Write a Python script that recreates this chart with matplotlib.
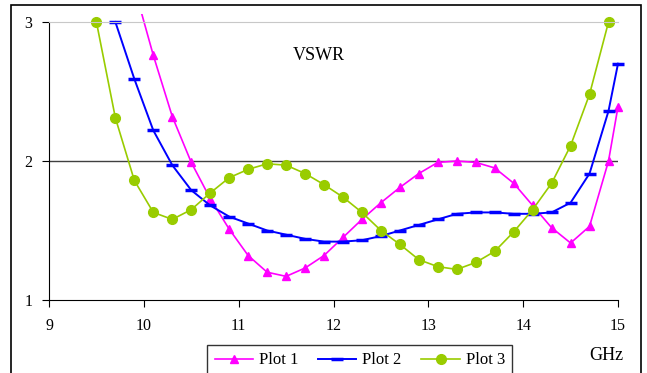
import matplotlib
matplotlib.use('Agg')
import matplotlib.pyplot as plt
from matplotlib.patches import Rectangle
from matplotlib.transforms import Bbox, TransformedBbox

plt.rcParams['font.family'] = ['Liberation Serif', 'DejaVu Serif']

# Plot 1 (magenta triangles)
x1 = [9.9, 10.1, 10.3, 10.5, 10.7, 10.9, 11.1, 11.3, 11.5, 11.7, 11.9, 12.1, 12.3, 12.5,
      12.7, 12.9, 13.1, 13.3, 13.5, 13.7, 13.9, 14.1, 14.3, 14.5, 14.7, 14.9, 15.0]
y1 = [3.25, 2.76, 2.32, 1.99, 1.73, 1.51, 1.32, 1.20, 1.17, 1.23, 1.32, 1.45, 1.58, 1.70,
      1.81, 1.91, 1.99, 2.00, 1.99, 1.95, 1.84, 1.68, 1.52, 1.41, 1.53, 2.00, 2.39]

# Plot 2 (blue dashes)
x2 = [9.7, 9.9, 10.1, 10.3, 10.5, 10.7, 10.9, 11.1, 11.3, 11.5, 11.7, 11.9, 12.1, 12.3,
      12.5, 12.7, 12.9, 13.1, 13.3, 13.5, 13.7, 13.9, 14.1, 14.3, 14.5, 14.7, 14.9, 15.0]
y2 = [3.00, 2.59, 2.22, 1.97, 1.79, 1.68, 1.60, 1.55, 1.50, 1.47, 1.44, 1.42, 1.42, 1.43,
      1.46, 1.50, 1.54, 1.58, 1.62, 1.63, 1.63, 1.62, 1.62, 1.63, 1.70, 1.91, 2.36, 2.70]

# Plot 3 (green circles)
x3 = [9.5, 9.7, 9.9, 10.1, 10.3, 10.5, 10.7, 10.9, 11.1, 11.3, 11.5, 11.7, 11.9, 12.1,
      12.3, 12.5, 12.7, 12.9, 13.1, 13.3, 13.5, 13.7, 13.9, 14.1, 14.3, 14.5, 14.7, 14.9]
y3 = [3.00, 2.31, 1.86, 1.63, 1.58, 1.65, 1.77, 1.88, 1.94, 1.98, 1.97, 1.91, 1.83, 1.74,
      1.63, 1.50, 1.40, 1.29, 1.24, 1.22, 1.27, 1.35, 1.49, 1.65, 1.84, 2.11, 2.48, 3.00]

xticks = [9, 10, 11, 12, 13, 14, 15]
yticks = [1, 2, 3]

fig = plt.figure(figsize=(6.47, 3.73), dpi=100)
fig.patches.append(Rectangle((11 / 647, -0.05), 630 / 647, 1 - 5 / 373 + 0.05,
                             transform=fig.transFigure, fill=False,
                             edgecolor='black', linewidth=1.2))

ax = fig.add_axes([49 / 647, 1 - 300 / 373, 569 / 647, 278 / 373])
ax.set_xlim(9, 15)
ax.set_ylim(1, 3)

clip = TransformedBbox(Bbox([[0, 0], [1.02, 1.03]]), ax.transAxes)

ax.axhline(2, color='#404040', linewidth=1, zorder=1)

l1, = ax.plot(x1, y1, color='#FF00FF', marker='^', markersize=6, linewidth=1.2, label='Plot 1')
l2, = ax.plot(x2, y2, color='#0000FF', marker='_', markersize=9, markeredgewidth=2.5,
              linewidth=1.4, label='Plot 2')
l3, = ax.plot(x3, y3, color='#99CC00', marker='o', markersize=7, linewidth=1.2, label='Plot 3')
for ln in (l1, l2, l3):
    ln.set_clip_box(clip)

ax.set_xticks(xticks)
ax.set_yticks(yticks)
ax.tick_params(labelsize=11.5, length=5, direction='out', color='black')
ax.tick_params(axis='y', pad=7)
ax.tick_params(axis='x', pad=8)

ax.spines['right'].set_visible(False)
ax.spines['top'].set_color('#C8C8C8')
ax.spines['left'].set_color('black')
ax.spines['bottom'].set_color('black')

fig.text(319 / 647, 1 - 55 / 373, 'VSWR', ha='center', va='center', fontsize=13)
fig.text(606 / 647, 1 - 355 / 373, 'GHz', ha='center', va='center', fontsize=13)

leg = fig.legend(handles=[l1, l2, l3], loc='upper left', ncol=3,
                 bbox_to_anchor=(207 / 647, 1 - 345 / 373), borderaxespad=0,
                 frameon=True, fancybox=False, edgecolor='black', fontsize=12,
                 handlelength=2.3, columnspacing=1.2, borderpad=0.45,
                 handletextpad=0.35)
leg.get_frame().set_linewidth(1.0)

fig.savefig('out.png', dpi=100)
